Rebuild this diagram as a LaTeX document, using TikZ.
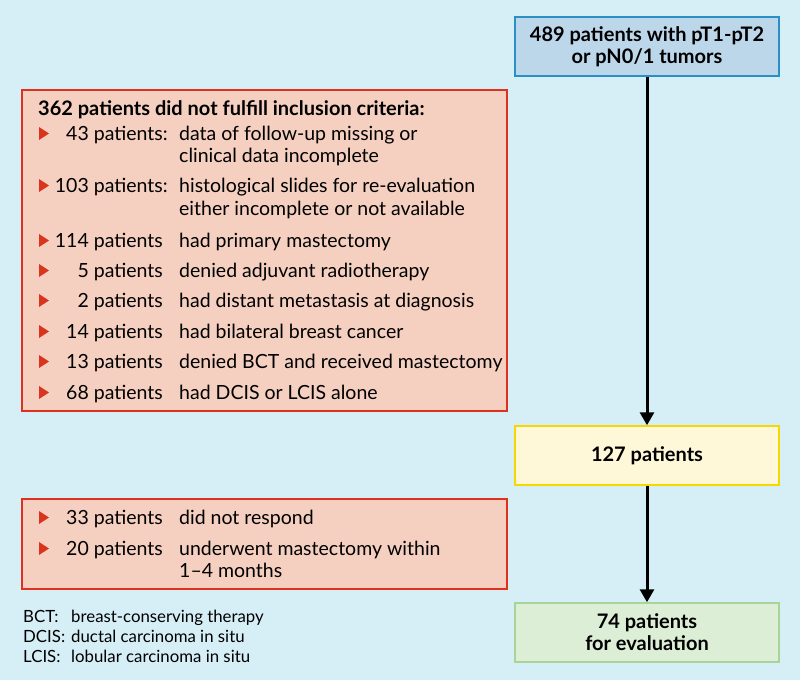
\documentclass[tikz,border=0pt]{standalone}
\usepackage{fontspec}
\setmainfont{Lato}
\usetikzlibrary{arrows.meta}
\definecolor{bgc}{HTML}{D6EEF6}
\definecolor{blueF}{HTML}{BCD7EA}
\definecolor{blueD}{HTML}{2A8FC5}
\definecolor{redF}{HTML}{F5D0C0}
\definecolor{redD}{HTML}{E0301E}
\definecolor{yelF}{HTML}{FFF8D8}
\definecolor{yelD}{HTML}{F5D800}
\definecolor{greF}{HTML}{DCEFD6}
\definecolor{greD}{HTML}{A8D597}
\definecolor{triC}{HTML}{D8341E}
\tikzset{
  box/.style={line width=1.5pt, minimum width=264pt, minimum height=59pt, inner sep=0pt, align=center, font=\fontsize{20}{22}\selectfont\bfseries},
  panel/.style={line width=1.5pt},
  txt/.style={inner sep=0pt, font=\fontsize{19.5}{23}\selectfont},
  leg/.style={inner sep=0pt, font=\fontsize{16.8}{20}\selectfont},
  flow/.style={line width=3pt, -{Triangle[width=14pt,length=13pt]}},
  tri/.style={fill=triC}
}
\begin{document}
\begin{tikzpicture}[x=1pt,y=-1pt]
\fill[bgc] (0,0) rectangle (800,680);
\useasboundingbox (0,0) rectangle (800,680);
% right column boxes
\node[box, fill=blueF, draw=blueD] (top) at (647,46.5) {489 patients with pT1-pT2\\or pN0/1 tumors};
\node[box, fill=yelF, draw=yelD] (mid) at (647,455.5) {127 patients};
\node[box, fill=greF, draw=greD] (bot) at (647,632.5) {74 patients\\for evaluation};
\draw[flow] (top.south) -- (mid.north);
\draw[flow] (mid.south) -- (bot.north);
% big exclusion panel
\draw[panel, fill=redF, draw=redD] (22,90) rectangle (507,411);
\node[txt, anchor=base west, font=\fontsize{20}{23}\selectfont\bfseries] (head) at (38,115) {362 patients did not fulfill inclusion criteria:};
% two-line items
\fill[tri] (39,127) -- (49,133.5) -- (39,140) -- cycle;
\node[txt, anchor=base east] (n43) at (163,140) {43 patients\rlap{:}};
\node[txt, anchor=base west] (t43a) at (179,140) {data of follow-up missing or};
\node[txt, anchor=base west] (t43b) at (179,162) {clinical data incomplete};
\fill[tri] (39,179) -- (49,185.5) -- (39,192) -- cycle;
\node[txt, anchor=base east] (n103) at (163,192) {103 patients\rlap{:}};
\node[txt, anchor=base west] (t103a) at (179,192) {histological slides for re-evaluation};
\node[txt, anchor=base west] (t103b) at (179,215) {either incomplete or not available};
% single-line items
\foreach \yy/\nn/\tt [count=\k] in {
  247/114 patients/had primary mastectomy,
  277/5 patients/denied adjuvant radiotherapy,
  307/2 patients/had distant metastasis at diagnosis,
  338/14 patients/had bilateral breast cancer,
  368/13 patients/denied BCT and received mastectomy,
  399/68 patients/had DCIS or LCIS alone}{
  \fill[tri] (39,\yy-13) -- (49,\yy-6.5) -- (39,\yy) -- cycle;
  \node[txt, anchor=base east] (n\k) at (163,\yy) {\nn};
  \node[txt, anchor=base west] (t\k) at (179,\yy) {\tt};
}
% small panel
\draw[panel, fill=redF, draw=redD] (22,499) rectangle (507,589);
\fill[tri] (39,511) -- (49,517.5) -- (39,524) -- cycle;
\node[txt, anchor=base east] (n33) at (163,524) {33 patients};
\node[txt, anchor=base west] (t33) at (179,524) {did not respond};
\fill[tri] (39,542) -- (49,548.5) -- (39,555) -- cycle;
\node[txt, anchor=base east] (n20) at (163,555) {20 patients};
\node[txt, anchor=base west] (t20a) at (179,555) {underwent mastectomy within};
\node[txt, anchor=base west] (t20b) at (179,577) {1–4 months};
% legend
\node[leg, anchor=base west] (l1) at (23,622) {BCT:};
\node[leg, anchor=base west] (d1) at (71,622) {breast-conserving therapy};
\node[leg, anchor=base west] (l2) at (23,642) {DCIS:};
\node[leg, anchor=base west] (d2) at (71,642) {ductal carcinoma in situ};
\node[leg, anchor=base west] (l3) at (23,662) {LCIS:};
\node[leg, anchor=base west] (d3) at (71,662) {lobular carcinoma in situ};
\end{tikzpicture}
\end{document}
